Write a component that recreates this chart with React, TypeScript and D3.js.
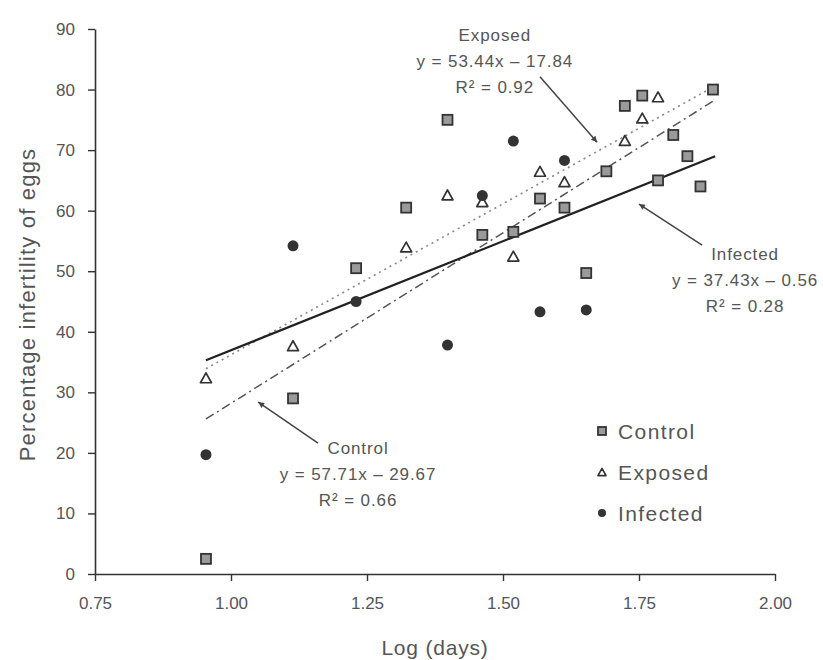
import { useEffect, useRef } from 'react';
import * as d3 from 'd3';

// log10(days) for each sampling point
const controlX = [0.954, 1.114, 1.23, 1.322, 1.398, 1.462, 1.519, 1.568, 1.613, 1.653, 1.69, 1.724, 1.756, 1.785, 1.813, 1.839, 1.863, 1.886];
const controlY = [2.5, 29, 50.5, 60.5, 75, 56, 56.5, 62, 60.5, 49.7, 66.5, 77.3, 79, 65, 72.5, 69, 64, 80];

const exposedX = [0.954, 1.114, 1.322, 1.398, 1.462, 1.519, 1.568, 1.613, 1.724, 1.756, 1.785];
const exposedY = [32.4, 37.7, 54, 62.6, 61.5, 52.5, 66.5, 64.8, 71.6, 75.3, 78.8];

const infectedX = [0.954, 1.114, 1.23, 1.398, 1.462, 1.519, 1.568, 1.613, 1.653];
const infectedY = [19.7, 54.2, 45, 37.8, 62.5, 71.5, 43.3, 68.3, 43.6];

// fitted lines, end points as drawn
const trendX = [0.954, 1.89];
const controlTrend = [25.6, 78.3];
const exposedTrend = [33.9, 80.6];
const infectedTrend = [35.3, 69.0];

const xTicks = [0.75, 1.0, 1.25, 1.5, 1.75, 2.0];
const yTicks = [0, 10, 20, 30, 40, 50, 60, 70, 80, 90];

const seriesNames = ['Control', 'Exposed', 'Infected'];

// annotation text blocks (anchor in data units) and arrows (start -> tip)
const notes = [
  { lines: ['Exposed', 'y = 53.44x \u2013 17.84', 'R\u00b2 = 0.92'], x: 1.485, y: 88.0, from: [1.568, 82.1], to: [1.673, 71.3] },
  { lines: ['Infected', 'y = 37.43x \u2013 0.56', 'R\u00b2 = 0.28'], x: 1.945, y: 51.85, from: [1.866, 54.3], to: [1.75, 61.1] },
  { lines: ['Control', 'y = 57.71x \u2013 29.67', 'R\u00b2 = 0.66'], x: 1.2335, y: 19.8, from: [1.16, 21.6], to: [1.05, 28.4] },
];

const W = 823;
const H = 660;
const FONT = '"Liberation Sans", Arial, Helvetica, sans-serif';
const INK = '#333';
const TEXT = '#555';

export default function App() {
  const svgRef = useRef<SVGSVGElement | null>(null);

  useEffect(() => {
    if (!svgRef.current) return;
    const svg = d3.select(svgRef.current);
    svg.selectAll('*').remove();

    const x = d3.scaleLinear().domain([0.75, 2.0]).range([95, 775]);
    const y = d3.scaleLinear().domain([0, 90]).range([574, 29]);

    svg.append('rect').attr('width', W).attr('height', H).attr('fill', '#fff');

    const defs = svg.append('defs');
    defs.append('marker')
      .attr('id', 'arrowhead')
      .attr('viewBox', '0 0 10 10')
      .attr('refX', 10)
      .attr('refY', 5)
      .attr('markerWidth', 9)
      .attr('markerHeight', 6)
      .attr('markerUnits', 'userSpaceOnUse')
      .attr('orient', 'auto')
      .append('path')
      .attr('d', 'M0,0 L10,5 L0,10 Z')
      .attr('fill', '#444');

    // axes
    const yAxis = svg.append('g')
      .attr('transform', `translate(${x(0.75)},0)`)
      .call(d3.axisLeft(y).tickValues(yTicks).tickSize(7).tickSizeOuter(0).tickPadding(13).tickFormat(d3.format('d')));
    const xAxis = svg.append('g')
      .attr('transform', `translate(0,${y(0)})`)
      .call(d3.axisBottom(x).tickValues(xTicks).tickSize(7).tickSizeOuter(0).tickPadding(16).tickFormat(d3.format('.2f')));

    [xAxis, yAxis].forEach(ax => {
      ax.select('.domain').attr('stroke', INK).attr('stroke-width', 1.6);
      ax.selectAll('.tick line').attr('stroke', INK).attr('stroke-width', 1.4);
      ax.selectAll('.tick text')
        .attr('fill', TEXT)
        .style('font-family', FONT)
        .style('font-size', '17px');
    });

    // axis titles
    svg.append('text')
      .attr('x', (x(0.75) + x(2.0)) / 2)
      .attr('y', 655)
      .attr('text-anchor', 'middle')
      .attr('fill', TEXT)
      .style('font-family', FONT)
      .style('font-size', '21px')
      .style('letter-spacing', '0.8px')
      .text('Log (days)');

    svg.append('text')
      .attr('transform', `translate(35,${(y(0) + y(90)) / 2 + 3}) rotate(-90)`)
      .attr('text-anchor', 'middle')
      .attr('fill', TEXT)
      .style('font-family', FONT)
      .style('font-size', '22px')
      .style('letter-spacing', '1.2px')
      .text('Percentage infertility of eggs');

    // trend lines
    const line = d3.line<[number, number]>().x(d => x(d[0])).y(d => y(d[1]));
    const trends = [
      { vals: controlTrend, color: '#555', width: 1.5, dash: '9,4,2,4' },
      { vals: exposedTrend, color: '#888', width: 1.6, dash: '2,4' },
      { vals: infectedTrend, color: '#222', width: 2.2, dash: null },
    ];
    trends.forEach(t => {
      svg.append('path')
        .datum(trendX.map((v, i) => [v, t.vals[i]] as [number, number]))
        .attr('d', line)
        .attr('fill', 'none')
        .attr('stroke', t.color)
        .attr('stroke-width', t.width)
        .attr('stroke-dasharray', t.dash);
    });

    // symbols
    const drawSquare = (g: any, cx: number, cy: number, s: number) => {
      g.append('rect')
        .attr('x', cx - s / 2).attr('y', cy - s / 2)
        .attr('width', s).attr('height', s)
        .attr('fill', '#9a9a9a')
        .attr('stroke', INK)
        .attr('stroke-width', 1.8);
    };
    const drawTriangle = (g: any, cx: number, cy: number, s: number) => {
      const h = s * 0.9;
      g.append('path')
        .attr('d', `M${cx},${cy - h / 2} L${cx + s / 2},${cy + h / 2} L${cx - s / 2},${cy + h / 2} Z`)
        .attr('fill', '#fff')
        .attr('stroke', INK)
        .attr('stroke-width', 1.7)
        .attr('stroke-linejoin', 'round');
    };
    const drawCircle = (g: any, cx: number, cy: number, s: number) => {
      g.append('circle')
        .attr('cx', cx).attr('cy', cy).attr('r', s / 2)
        .attr('fill', INK);
    };

    const pts = svg.append('g');
    controlX.forEach((v, i) => drawSquare(pts, x(v), y(controlY[i]), 10));
    exposedX.forEach((v, i) => drawTriangle(pts, x(v), y(exposedY[i]), 11));
    infectedX.forEach((v, i) => drawCircle(pts, x(v), y(infectedY[i]), 11));

    // annotations
    notes.forEach(n => {
      const t = svg.append('text')
        .attr('text-anchor', 'middle')
        .attr('fill', TEXT)
        .style('font-family', FONT)
        .style('font-size', '17px')
        .style('letter-spacing', '0.9px');
      n.lines.forEach((s, i) => {
        t.append('tspan')
          .attr('x', x(n.x))
          .attr('y', y(n.y) + i * 26)
          .text(s);
      });
      svg.append('line')
        .attr('x1', x(n.from[0])).attr('y1', y(n.from[1]))
        .attr('x2', x(n.to[0])).attr('y2', y(n.to[1]))
        .attr('stroke', '#444')
        .attr('stroke-width', 1.5)
        .attr('marker-end', 'url(#arrowhead)');
    });

    // legend
    const legend = svg.append('g').attr('transform', 'translate(602,431)');
    const legendDraw = [drawSquare, drawTriangle, drawCircle];
    seriesNames.forEach((name, i) => {
      const row = legend.append('g').attr('transform', `translate(0,${i * 41})`);
      legendDraw[i](row, 0, 0, 8);
      row.append('text')
        .attr('x', 16)
        .attr('y', 8)
        .attr('fill', TEXT)
        .style('font-family', FONT)
        .style('font-size', '21px')
        .style('letter-spacing', '1.4px')
        .text(name);
    });
  }, []);

  return (
    <svg
      ref={svgRef}
      width={W}
      height={H}
      style={{ position: 'absolute', left: 0, top: 0, display: 'block' }}
    />
  );
}
